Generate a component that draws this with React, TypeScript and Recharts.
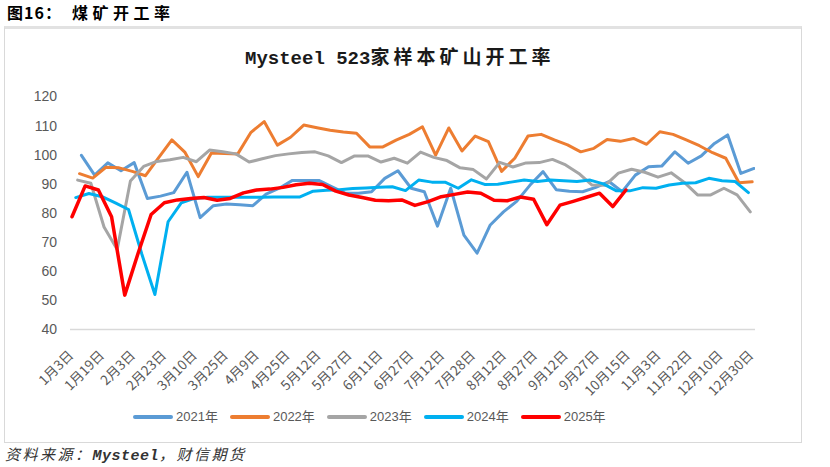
import React from 'react';
import { LineChart, Line, XAxis, YAxis } from 'recharts';

const X_LABELS = ['1月3日', '1月19日', '2月3日', '2月23日', '3月10日', '3月25日', '4月9日', '4月25日', '5月12日', '5月27日', '6月11日', '6月27日', '7月12日', '7月28日', '8月12日', '8月27日', '9月12日', '9月27日', '10月15日', '11月3日', '11月22日', '12月10日', '12月30日'];
const Y_TICKS = [40, 50, 60, 70, 80, 90, 100, 110, 120];
const YEARS = ['2021年', '2022年', '2023年', '2024年', '2025年'];
const COLORS = ['#5B9BD5', '#ED7D31', '#A5A5A5', '#00B0F0', '#FF0000'];
// first weekly (Friday) release date of each year
const FIRST_DATES = ['01-08', '01-07', '01-06', '01-05', '01-03'];
const ORIGIN_DATE = '01-03';
const LAST_LABEL_DATE = '12-30';

const V2021 = [99.8, 93, 97.2, 94.5, 97.3, 85, 85.8, 87, 94, 78.4,
  82.5, 83.1, 82.8, 82.5, 86.5, 88.5, 91.2, 91.2, 91.2, 89,
  86.8, 86.8, 87.3, 91.9, 94.5, 88.5, 87.3, 75.5, 88.5, 72.4,
  66.2, 75.9, 80.4, 84, 89.5, 94.2, 88, 87.5, 87.3, 88.8,
  90.8, 87.3, 93, 95.9, 96.1, 101, 97.1, 99.6, 103.9, 106.8,
  93.6, 95.3];
const V2022 = [93.5, 92, 95.7, 95.5, 94.3, 92.8, 99, 105.1, 100.8, 92.5,
  100.6, 100.4, 100.3, 107.7, 111.4, 103.3, 106, 110.2, 109.3, 108.4,
  107.8, 107.4, 102.7, 102.7, 105, 107, 109.6, 99.9, 109.2, 101.3,
  106.4, 104.5, 94.3, 98.8, 106.4, 107, 105.1, 103.4, 101, 102.2,
  105.2, 104.6, 105.6, 103.6, 107.9, 107, 105.1, 103.1, 100.7, 98.8,
  90.4, 90.7];
const V2023 = [91.3, 90.2, 75.2, 67.5, 91, 96, 97.7, 98.3, 99.1, 97.6,
  101.6, 101, 100.3, 97.5, 98.6, 99.7, 100.3, 100.8, 101, 99.6,
  97.3, 99.6, 99.6, 97.5, 98.8, 97.1, 100.9, 99.1, 98, 95.5,
  94.9, 91.7, 97.4, 95.8, 97.2, 97.3, 98.4, 96.5, 93.6, 89.6,
  89.5, 93.7, 95, 94, 92.3, 93.8, 90.5, 86.2, 86.2, 88.5,
  86.2, 80.4];
const V2024 = [85.3, 86.7, 85.6, 83.5, 81.2, 66, 52, 77, 83.5, 85,
  85.4, 85.4, 85.4, 85.4, 85.4, 85.5, 85.5, 85.5, 87.5, 87.8,
  88, 88.4, 88.6, 88.8, 89, 87.7, 91.3, 90.6, 90.6, 88.5,
  91.4, 89.8, 89.9, 90.6, 91.3, 90.8, 91.3, 91.1, 90.8, 91.3,
  90, 87.6, 87.6, 88.7, 88.5, 89.6, 90.2, 90.4, 91.9, 91.1,
  90.8, 87];
const V2025 = [78.7, 89.3, 87.9, 78.7, 51.8, 66, 79.5, 83.5, 84.5, 85,
  85.3, 84.4, 85, 86.9, 87.9, 88.2, 88.8, 89.7, 90.2, 89.8,
  87.5, 86.2, 85.3, 84.4, 84.2, 84.5, 82.6, 83.9, 85.6, 86.4,
  87.2, 86.8, 84.4, 84.2, 85.5, 84.7, 76, 82.7, 84, 85.4,
  86.8, 82.2, 87.9];

const VALUES = [V2021, V2022, V2023, V2024, V2025];

function dayOffset(mmdd: string): number {
  const [m, d] = mmdd.split('-').map(Number);
  const [m0, d0] = ORIGIN_DATE.split('-').map(Number);
  return (Date.UTC(2023, m - 1, d) - Date.UTC(2023, m0 - 1, d0)) / 86400000;
}

const SERIES = VALUES.map((vals, k) =>
  vals.map((v, i) => ({ d: dayOffset(FIRST_DATES[k]) + 7 * i, v }))
);

const LAST_DAY = dayOffset(LAST_LABEL_DATE);
const X_TICKS = X_LABELS.map((_, i) => (i * LAST_DAY) / (X_LABELS.length - 1));

const XTick = (props: any) => {
  const { x, y, payload } = props;
  let idx = 0;
  let best = Infinity;
  X_TICKS.forEach((t, i) => {
    const diff = Math.abs(t - payload.value);
    if (diff < best) { best = diff; idx = i; }
  });
  const ax = x - 2;
  const ay = y + 22.5;
  return (
    <text
      x={ax}
      y={ay}
      transform={`rotate(-45 ${ax} ${ay})`}
      textAnchor="end"
      dominantBaseline="central"
      fontSize={13.5}
      fill="#595959"
      fontFamily='"Noto Sans CJK SC", sans-serif'
    >
      {X_LABELS[idx]}
    </text>
  );
};

export default function App() {
  return (
    <div style={{ position: 'absolute', left: 0, top: 0, width: 830, height: 467, background: '#fff', overflow: 'hidden' }}>
      <div style={{ position: 'absolute', left: 7, top: 2, fontFamily: '"Noto Sans CJK SC", sans-serif', fontWeight: 700, fontSize: 16, lineHeight: '20px', color: '#000', whiteSpace: 'nowrap', letterSpacing: 1 }}>
        图16：
      </div>
      <div style={{ position: 'absolute', left: 72, top: 2, fontFamily: '"Noto Sans CJK SC", sans-serif', fontWeight: 700, fontSize: 16, lineHeight: '20px', color: '#000', letterSpacing: 4.5, whiteSpace: 'nowrap' }}>
        煤矿开工率
      </div>
      <div style={{ position: 'absolute', left: 4, top: 26, width: 796, height: 413, borderTop: '3px solid #e2e2e2', borderLeft: '1px solid #d9d9d9', borderRight: '1px solid #d9d9d9', borderBottom: '1px solid #d9d9d9' }} />
      <div style={{ position: 'absolute', left: 245, top: 44, whiteSpace: 'nowrap', lineHeight: '24px', color: '#1a1a1a' }}>
        <span style={{ fontFamily: '"Liberation Mono", "DejaVu Sans Mono", monospace', fontWeight: 700, fontSize: 19 }}>Mysteel 523</span>
        <span style={{ fontFamily: '"Noto Sans CJK SC", sans-serif', fontWeight: 700, fontSize: 19, letterSpacing: 4 }}>家样本矿山开工率</span>
      </div>
      <div style={{ position: 'absolute', left: 0, top: 0 }}>
        <LineChart width={830} height={467} margin={{ top: 96.5, right: 75, bottom: 77.5, left: 0 }}>
          <XAxis
            type="number"
            dataKey="d"
            domain={[-1.06, 362.5]}
            allowDataOverflow
            ticks={X_TICKS}
            interval={0}
            tick={<XTick />}
            tickLine={false}
            tickSize={0}
            tickMargin={0}
            axisLine={{ stroke: '#d9d9d9', strokeWidth: 1.5 }}
            height={60}
          />
          <YAxis
            type="number"
            domain={[40, 120]}
            ticks={Y_TICKS}
            interval={0}
            width={70}
            axisLine={false}
            tickLine={false}
            tickMargin={7}
            tick={{ fill: '#595959', fontSize: 14, fontFamily: '"Liberation Sans", Arial, sans-serif' }}
          />
          {SERIES.map((data, k) => (
            <Line
              key={YEARS[k]}
              data={data}
              dataKey="v"
              name={YEARS[k]}
              type="linear"
              stroke={COLORS[k]}
              strokeWidth={k === 4 ? 3.5 : 3}
              strokeLinejoin="round"
              strokeLinecap="round"
              dot={false}
              activeDot={false}
              isAnimationActive={false}
            />
          ))}
        </LineChart>
      </div>
      <div style={{ position: 'absolute', left: 133, top: 407, display: 'flex', gap: 12, alignItems: 'center', height: 20 }}>
        {YEARS.map((y, k) => (
          <div key={y} style={{ display: 'flex', alignItems: 'center' }}>
            <span style={{ display: 'inline-block', width: 40, height: 4, borderRadius: 2, background: COLORS[k], marginRight: 3 }} />
            <span style={{ fontFamily: '"Liberation Sans", "Noto Sans CJK SC", sans-serif', fontSize: 13, color: '#595959', lineHeight: '20px' }}>{y}</span>
          </div>
        ))}
      </div>
      <div style={{ position: 'absolute', left: 5, top: 444, whiteSpace: 'nowrap', fontStyle: 'italic', fontSize: 15, lineHeight: '20px', color: '#333', fontFamily: '"Noto Sans CJK SC", sans-serif', letterSpacing: 2.5 }}>
        资料来源：<span style={{ fontFamily: '"Liberation Mono", monospace', fontWeight: 700, letterSpacing: 0.5 }}>Mysteel</span>，财信期货
      </div>
    </div>
  );
}
